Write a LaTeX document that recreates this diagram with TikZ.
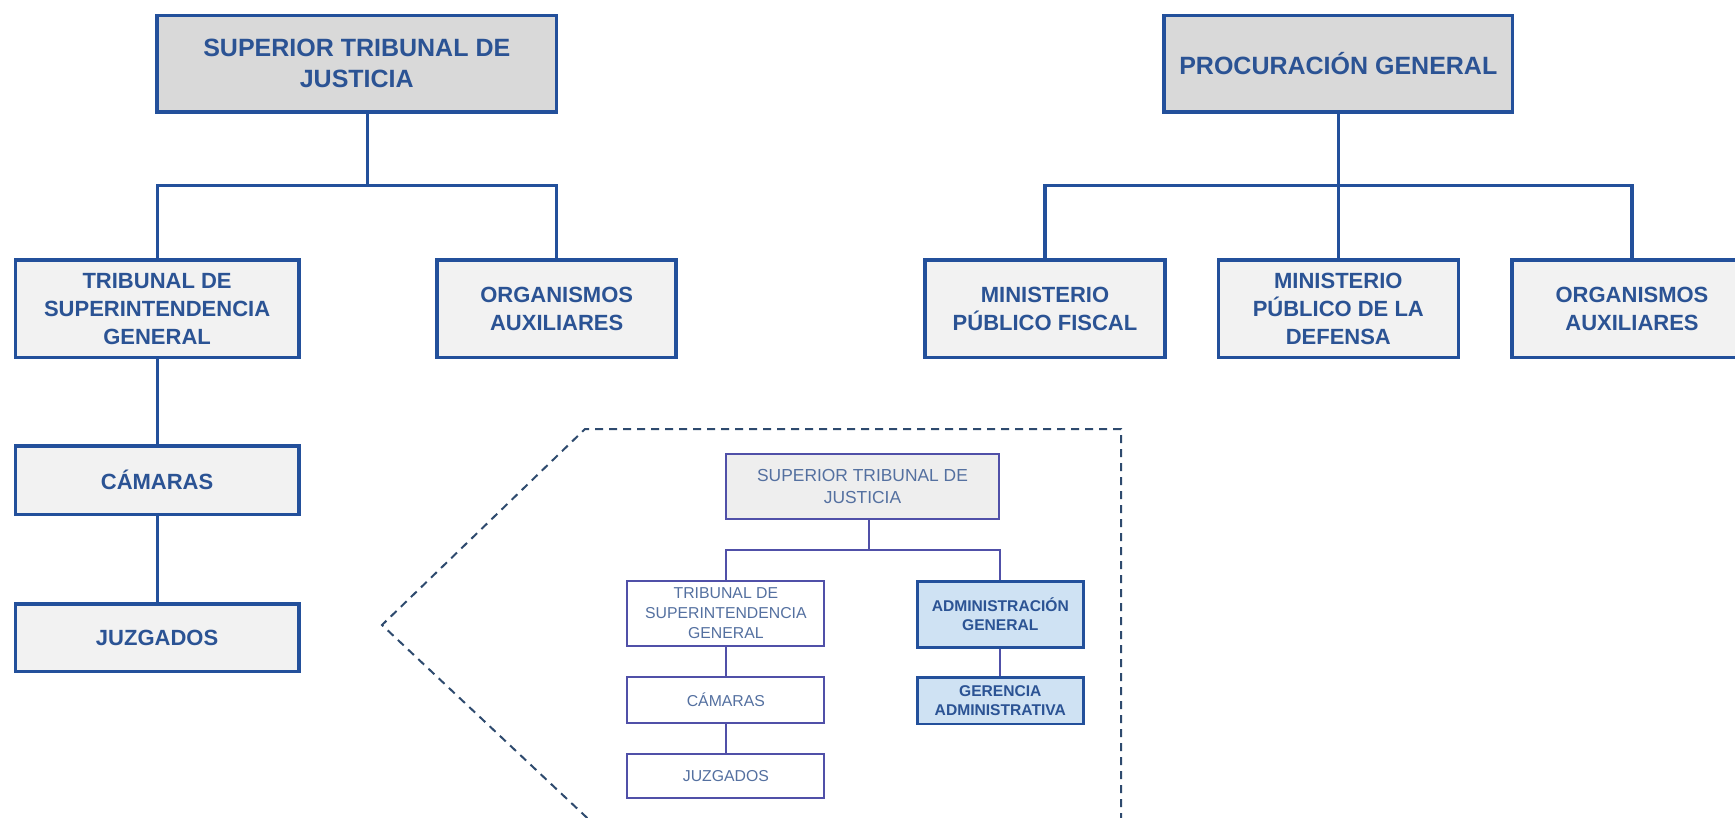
\documentclass[tikz,border=0pt]{standalone}
\usepackage{fontspec}
\setmainfont{Liberation Sans}
\definecolor{mainblue}{HTML}{23509B}
\definecolor{textblue}{HTML}{2B5394}
\definecolor{topfill}{HTML}{D9D9D9}
\definecolor{subfill}{HTML}{F2F2F2}
\definecolor{innerline}{HTML}{5050A8}
\definecolor{innertext}{HTML}{5470A0}
\definecolor{innerfill}{HTML}{EEEEEE}
\definecolor{admfill}{HTML}{CFE2F3}
\definecolor{dashcol}{HTML}{2E4A6E}
\tikzset{
  topbox/.style={draw=mainblue, line width=1.8pt, fill=topfill, text=textblue, align=center, inner sep=0pt,
    font=\bfseries\fontsize{12.5}{15.3}\selectfont},
  subbox/.style={draw=mainblue, line width=1.8pt, fill=subfill, text=textblue, align=center, inner sep=0pt,
    font=\bfseries\fontsize{11}{14}\selectfont},
  mainconn/.style={draw=mainblue, line width=1.6pt},
  ibox/.style={draw=innerline, line width=1pt, fill=white, text=innertext, align=center, inner sep=0pt,
    font=\fontsize{7.9}{10}\selectfont},
  itop/.style={ibox, fill=innerfill, font=\fontsize{8.7}{11}\selectfont},
  abox/.style={draw=mainblue, line width=1.4pt, fill=admfill, text=textblue, align=center, inner sep=0pt,
    font=\bfseries\fontsize{7.8}{9.4}\selectfont},
  iconn/.style={draw=innerline, line width=1pt},
  dashline/.style={draw=dashcol, line width=1pt, dash pattern=on 4pt off 3pt, line join=miter}
}
\begin{document}
\begin{tikzpicture}[x=0.5pt, y=-0.5pt]
\clip (0,0) rectangle (1735,818);
\fill[white] (0,0) rectangle (1735,818);

% ---------- left tree ----------
\node[topbox, minimum width=199.7pt, minimum height=48.2pt] (stj) at (356.8,63.6) {SUPERIOR TRIBUNAL DE\\JUSTICIA};
\node[subbox, minimum width=141.6pt, minimum height=48.7pt] (tsg) at (157.1,308.7) {TRIBUNAL DE\\SUPERINTENDENCIA\\GENERAL};
\node[subbox, minimum width=119.5pt, minimum height=48.7pt] (org1) at (556.7,308.7) {ORGANISMOS\\AUXILIARES};
\node[subbox, minimum width=141.6pt, minimum height=34.3pt] (cam) at (157.1,480.2) {CÁMARAS};
\node[subbox, minimum width=141.6pt, minimum height=33.8pt] (juz) at (157.1,637.8) {JUZGADOS};

\coordinate (j1) at (367.4,185.9);
\draw[mainconn] (stj.south -| j1) -- (j1);
\draw[mainconn, line join=miter] (tsg.north) -- (tsg.north |- j1) -- (org1.north |- j1) -- (org1.north);
\draw[mainconn] (tsg.south) -- (cam.north);
\draw[mainconn] (cam.south) -- (juz.north);

% ---------- right tree ----------
\node[topbox, minimum width=174.3pt, minimum height=48.2pt] (pg) at (1338.3,63.6) {PROCURACIÓN GENERAL};
\node[subbox, minimum width=120pt, minimum height=48.7pt] (mpf) at (1045,308.7) {MINISTERIO\\PÚBLICO FISCAL};
\node[subbox, minimum width=120pt, minimum height=48.7pt] (mpd) at (1338.3,308.7) {MINISTERIO\\PÚBLICO DE LA\\DEFENSA};
\node[subbox, minimum width=120pt, minimum height=48.7pt] (org2) at (1632,308.7) {ORGANISMOS\\AUXILIARES};

\coordinate (j2) at (1338.3,185.9);
\draw[mainconn] (pg.south) -- (mpd.north);
\draw[mainconn, line join=miter] (mpf.north) -- (mpf.north |- j2) -- (org2.north |- j2) -- (org2.north);

% ---------- dashed callout ----------
\coordinate (d1) at (1121,835);
\coordinate (d2) at (1121,429);
\coordinate (d3) at (585,429);
\coordinate (d4) at (382,625);
\coordinate (d5) at (600,830);
\draw[dashline] (d1) -- (d2) -- (d3) -- (d4) -- (d5);

% ---------- inner tree ----------
\node[itop, minimum width=136.5pt, minimum height=32.6pt] (istj) at (862.5,486.3) {SUPERIOR TRIBUNAL DE\\JUSTICIA};
\node[ibox, minimum width=98.5pt, minimum height=32.5pt] (itsg) at (725.9,613.5) {TRIBUNAL DE\\SUPERINTENDENCIA\\GENERAL};
\node[abox, minimum width=83pt, minimum height=33pt] (adm) at (1000.3,614.2) {ADMINISTRACIÓN\\GENERAL};
\node[ibox, minimum width=98.5pt, minimum height=22.6pt] (icam) at (725.9,699.9) {CÁMARAS};
\node[ibox, minimum width=98.5pt, minimum height=22.2pt] (ijuz) at (725.9,775.7) {JUZGADOS};
\node[abox, minimum width=83pt, minimum height=23.2pt] (ger) at (1000.3,700.7) {GERENCIA\\ADMINISTRATIVA};

\coordinate (j3) at (869,550);
\draw[iconn] (istj.south -| j3) -- (j3);
\draw[iconn, line join=miter] (itsg.north) -- (itsg.north |- j3) -- (adm.north |- j3) -- (adm.north);
\draw[iconn] (itsg.south) -- (icam.north);
\draw[iconn] (icam.south) -- (ijuz.north);
\draw[iconn] (adm.south) -- (ger.north);
\end{tikzpicture}
\end{document}
